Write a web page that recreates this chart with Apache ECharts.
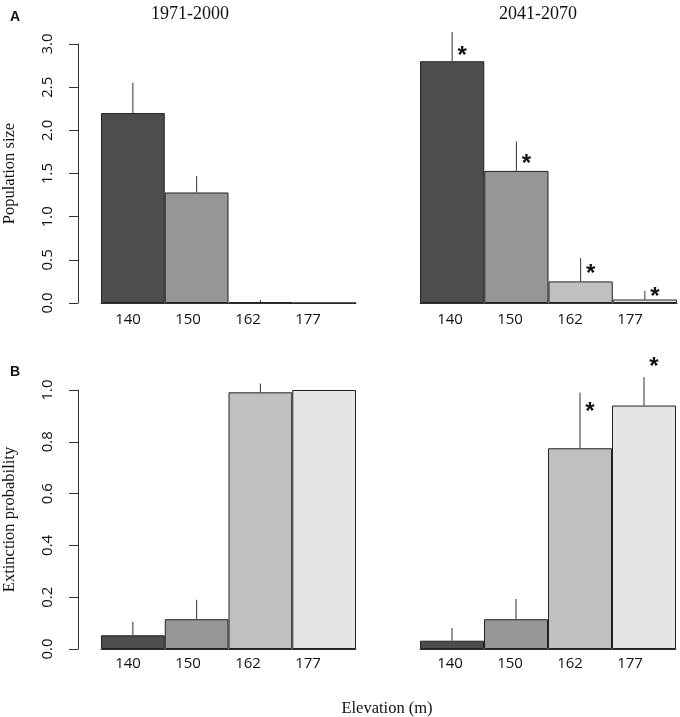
<!DOCTYPE html>
<html>
<head>
<meta charset="utf-8">
<title>Population size and extinction probability</title>
<script src="https://cdn.jsdelivr.net/npm/echarts@6/dist/echarts.min.js"></script>
<style>
html,body{margin:0;padding:0;background:#fff;}
#chart{width:680px;height:717px;}
</style>
</head>
<body>
<div id="chart"></div>
<script>

// elevation classes (m)
const elevations = ['140', '150', '162', '177']
const barColors = ['#4d4d4d', '#969696', '#c0c0c0', '#e5e5e5']

// A: population size, bar value and top of error bar
const popPast = [2.20, 1.28, 0.01, 0]
const popPastUp = [2.55, 1.47, 0.035, 0]
const popFuture = [2.80, 1.53, 0.25, 0.04]
const popFutureUp = [3.14, 1.87, 0.52, 0.14]
const popFutureStar = [2.93, 1.67, 0.40, 0.14]

// B: extinction probability
const extPast = [0.053, 0.115, 0.991, 1.0]
const extPastUp = [0.105, 0.19, 1.025, 1.0]
const extFuture = [0.032, 0.115, 0.775, 0.94]
const extFutureUp = [0.081, 0.193, 0.99, 1.05]
const extFutureStar = [null, null, 0.938, 1.111]

const popTicks = {min: 0, max: 3, interval: 0.5}
const extTicks = {min: 0, max: 1, interval: 0.2}

const sans = 'Open Sans'
const serif = 'Liberation Serif'
const lineCol = '#333'

const grids = []
const xAxes = []
const yAxes = []
const series = []

function panel(box, labelBox, ticks, showY, yName, values, ups, stars, labelMargin){

const g = grids.length

grids.push(box)
grids.push(labelBox)

xAxes.push({
gridIndex: g,
type: 'category',
data: elevations,
axisLine: {show: true, onZero: false, lineStyle: {color: lineCol, width: 1}},
axisTick: {show: false},
axisLabel: {show: false},
splitLine: {show: false}
})

xAxes.push({
gridIndex: g + 1,
type: 'category',
data: elevations,
axisLine: {show: false},
axisTick: {show: false},
axisLabel: {show: true, margin: labelMargin, fontFamily: sans, fontSize: 15, color: '#111'},
splitLine: {show: false}
})

yAxes.push({
gridIndex: g,
type: 'value',
min: ticks.min,
max: ticks.max,
interval: ticks.interval,
show: showY,
offset: 23,
name: yName,
nameLocation: 'middle',
nameRotate: 90,
nameGap: 60,
nameTextStyle: {fontFamily: serif, fontSize: 16.5, color: '#111'},
axisLine: {show: true, lineStyle: {color: lineCol, width: 1}},
axisTick: {show: true, length: 9, lineStyle: {color: lineCol}},
axisLabel: {show: true, rotate: 90, margin: 23, fontFamily: sans, fontSize: 15, color: '#111',
formatter: v => v.toFixed(1)},
splitLine: {show: false}
})

yAxes.push({gridIndex: g + 1, type: 'value', show: false})

const xi = xAxes.length - 2
const yi = yAxes.length - 2

series.push({
type: 'bar',
xAxisIndex: xi,
yAxisIndex: yi,
barWidth: '100%',
barCategoryGap: 0,
data: values.map((v, i) => ({
value: v,
itemStyle: {color: barColors[i], borderColor: '#222', borderWidth: 1}
})),
silent: true,
z: 2
})

series.push({
type: 'custom',
xAxisIndex: xi,
yAxisIndex: yi,
clip: false,
data: values.map((v, i) => [i, v, ups[i]]),
renderItem: function(params, api){
const lo = api.coord([api.value(0), api.value(1)])
const hi = api.coord([api.value(0), api.value(2)])
return {
type: 'line',
shape: {x1: lo[0], y1: lo[1], x2: hi[0], y2: hi[1]},
style: {stroke: '#333', lineWidth: 1}
}
},
silent: true,
z: 3
})

if(stars){
series.push({
type: 'custom',
xAxisIndex: xi,
yAxisIndex: yi,
clip: false,
data: stars.map((v, i) => [i, v]).filter(d => d[1] !== null),
renderItem: function(params, api){
const p = api.coord([api.value(0), api.value(1)])
return {
type: 'text',
style: {
text: '*',
x: p[0] + 10,
y: p[1] + 6,
align: 'center',
verticalAlign: 'middle',
fontFamily: 'Liberation Sans',
fontWeight: 'bold',
fontSize: 24,
fill: '#111'
}
}
},
silent: true,
z: 4
})
}
}

panel({left: 100, top: 44, width: 256, height: 259}, {left: 98, top: 44, width: 240, height: 259},
popTicks, true, 'Population size', popPast, popPastUp, null, 9)

panel({left: 420, top: 44, width: 257, height: 259}, {left: 420, top: 44, width: 240, height: 259},
popTicks, false, '', popFuture, popFutureUp, popFutureStar, 9)

panel({left: 100, top: 390, width: 256, height: 259}, {left: 98, top: 390, width: 240, height: 259},
extTicks, true, 'Extinction probability', extPast, extPastUp, null, 7)

panel({left: 420, top: 390, width: 256, height: 259}, {left: 420, top: 390, width: 240, height: 259},
extTicks, false, '', extFuture, extFutureUp, extFutureStar, 7)

const chart = echarts.init(document.getElementById('chart'))

chart.setOption({
backgroundColor: '#fff',
animation: false,
title: [
{text: 'A', left: 5, top: 5, textStyle: {fontFamily: 'Liberation Sans', fontWeight: 'bold', fontSize: 14, color: '#111'}},
{text: 'B', left: 5, top: 360, textStyle: {fontFamily: 'Liberation Sans', fontWeight: 'bold', fontSize: 14, color: '#111'}},
{text: '1971-2000', left: 185, top: 0, textAlign: 'center', textStyle: {fontFamily: serif, fontWeight: 'normal', fontSize: 18, color: '#111'}},
{text: '2041-2070', left: 533, top: 0, textAlign: 'center', textStyle: {fontFamily: serif, fontWeight: 'normal', fontSize: 18, color: '#111'}},
{text: 'Elevation (m)', left: 382, top: 695, textAlign: 'center', textStyle: {fontFamily: serif, fontWeight: 'normal', fontSize: 16.5, color: '#111'}}
],
grid: grids,
xAxis: xAxes,
yAxis: yAxes,
series: series
})

</script>
</body>
</html>
